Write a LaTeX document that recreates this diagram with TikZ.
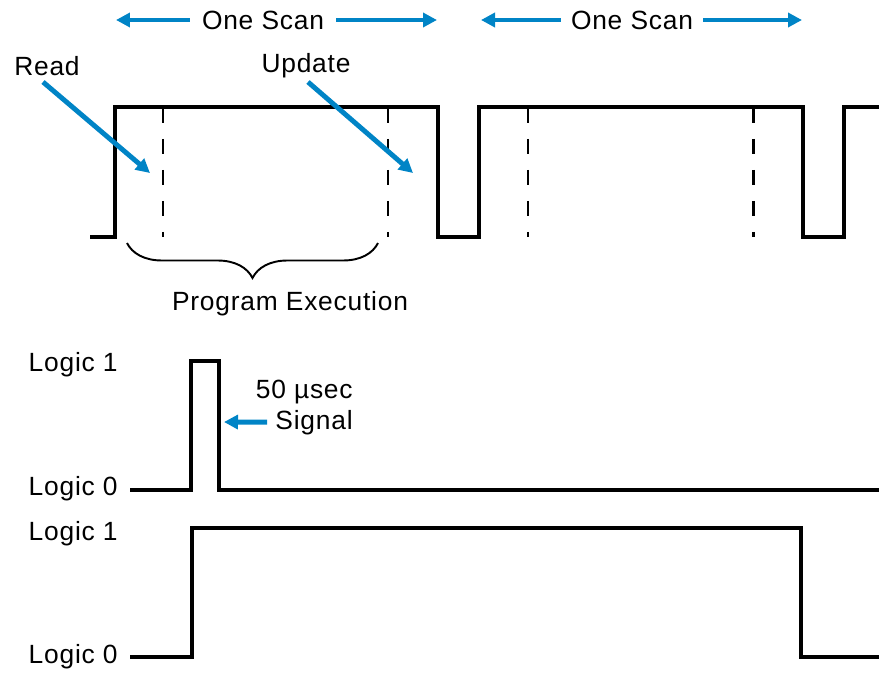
\documentclass[tikz,border=0pt]{standalone}
\usepackage{fontspec}
\setmainfont{Liberation Sans}[LetterSpace=3]
\usepackage{xcolor}
\definecolor{scanblue}{RGB}{0,132,198}
\usepackage{tikz}
\usetikzlibrary{arrows.meta,decorations.pathreplacing,positioning}

\begin{document}
\begin{tikzpicture}[x=0.02cm,y=-0.02cm,
    every node/.style={font=\fontsize{15}{18}\selectfont,inner sep=0pt},
    wave/.style={line width=1.9pt,line join=miter},
    marker/.style={line width=1.7pt,dash pattern=on 0.3cm off 0.32cm},
    pointer/.style={draw=scanblue,line width=2.8pt,
                    -{Triangle[length=0.28cm,width=0.28cm]}}]
  \useasboundingbox (0,0) rectangle (879,673);
  % Scan cycle
  \draw[wave] (90,237) -- (115,237) -- (115,107) -- (438,107) -- (438,237)
    -- (479,237) -- (479,107) -- (803,107) -- (803,237) -- (844,237)
    -- (844,107) -- (879,107);
  \foreach \x in {163,388,528,753}
    \draw[marker] (\x,108) -- (\x,237);
  % One Scan
  \node at (263,20) (scanA) {One Scan};
  \node at (632,20) (scanB) {One Scan};
  \coordinate (scanAl) at (116,20);
  \coordinate (scanAr) at (437,20);
  \coordinate (scanBl) at (481,20);
  \coordinate (scanBr) at (802,20);
  \draw[pointer] ([xshift=-0.24cm]scanA.west) -- (scanAl);
  \draw[pointer] ([xshift=0.24cm]scanA.east) -- (scanAr);
  \draw[pointer] ([xshift=-0.2cm]scanB.west) -- (scanBl);
  \draw[pointer] ([xshift=0.2cm]scanB.east) -- (scanBr);
  % Read / Update
  \node[anchor=base] at (47,75) (read) {Read};
  \node[anchor=base] at (306,72) (update) {Update};
  \coordinate (readtip) at (150,173);
  \coordinate (updatetip) at (413,173);
  \draw[pointer] ([xshift=-0.08cm,yshift=-0.14cm]read.base) -- (readtip);
  \draw[pointer] ([xshift=0.04cm,yshift=-0.2cm]update.base) -- (updatetip);
  % Program execution
  \draw[line width=1.1pt,decorate,decoration={brace,mirror,amplitude=0.7cm}]
    (127,243) -- (378,243);
  \node[anchor=base] at (290,310) (prog) {Program Execution};
  % 50 usec pulse
  \node[anchor=base east] at (118,371) (logicA1) {Logic 1};
  \node[anchor=base east] at (118,495) (logicA0) {Logic 0};
  \draw[wave] (130,490) -- (191,490) -- (191,361) -- (219,361) -- (219,490)
    -- (879,490);
  \node[anchor=base east] at (353,398) (sigA) {50 µsec};
  \node[anchor=base east] at (353,429) (sigB) {Signal};
  \coordinate (sigtip) at (224,422);
  \draw[pointer] ([xshift=-0.16cm]sigB.west) -- (sigtip);
  % Output
  \node[anchor=base east] at (118,540) (logicB1) {Logic 1};
  \node[anchor=base east] at (118,663) (logicB0) {Logic 0};
  \draw[wave] (130,657) -- (192,657) -- (192,528) -- (801,528) -- (801,657)
    -- (879,657);
\end{tikzpicture}
\end{document}
